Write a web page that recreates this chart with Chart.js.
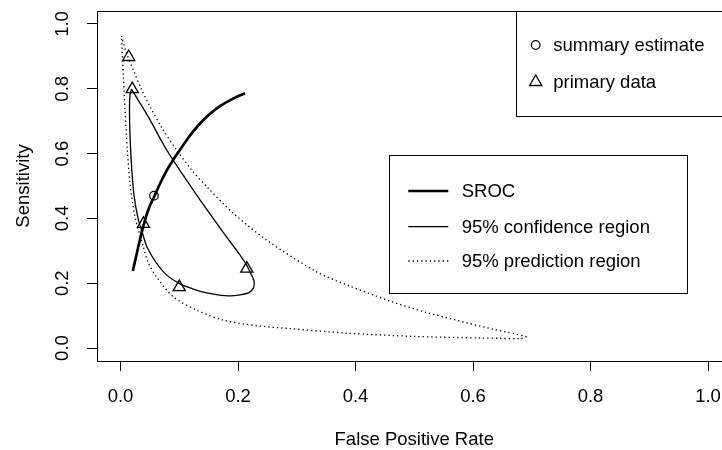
<!DOCTYPE html>
<html><head><meta charset="utf-8">
<script src="https://cdn.jsdelivr.net/npm/chart.js@4.4.1/dist/chart.umd.min.js"></script>
<style>
html,body{margin:0;padding:0;background:#fff;overflow:hidden;}
#wrap{position:relative;width:740px;height:450px;}
</style></head><body>
<div id="wrap"><canvas id="c"></canvas></div>
<script>
// ---- data ----
const xTicks = [0, 0.2, 0.4, 0.6, 0.8, 1.0];
const yTicks = [0, 0.2, 0.4, 0.6, 0.8, 1.0];

const srocFpr  = [0.021, 0.030, 0.039, 0.048, 0.058, 0.068, 0.079, 0.090, 0.101, 0.118, 0.135, 0.152, 0.170, 0.190, 0.212];
const srocSens = [0.238, 0.310, 0.378, 0.430, 0.470, 0.510, 0.549, 0.582, 0.611, 0.655, 0.692, 0.722, 0.747, 0.768, 0.786];

const confFpr  = [0.0187, 0.0332, 0.0502, 0.0786, 0.1064, 0.1353, 0.1745, 0.2034, 0.2148, 0.2204, 0.2255, 0.2277, 0.2260, 0.2187, 0.2034, 0.1864, 0.1660, 0.1467, 0.1239, 0.1013, 0.0786, 0.0616, 0.0451, 0.0388, 0.0298, 0.0230, 0.0187, 0.0162, 0.0153, 0.0162, 0.0187];
const confSens = [0.799, 0.756, 0.704, 0.611, 0.534, 0.457, 0.358, 0.287, 0.256, 0.235, 0.216, 0.201, 0.184, 0.171, 0.164, 0.161, 0.164, 0.170, 0.182, 0.198, 0.225, 0.261, 0.312, 0.346, 0.401, 0.472, 0.565, 0.657, 0.735, 0.781, 0.799];

const predFpr  = [0.0017, 0.0102, 0.0218, 0.0349, 0.0502, 0.0706, 0.0957, 0.1200, 0.1467, 0.1920, 0.2489, 0.3340, 0.3906, 0.4587, 0.5183, 0.5779, 0.6374, 0.6900, 0.6800, 0.6460, 0.6119, 0.4984, 0.3850, 0.2885, 0.2318, 0.1750, 0.1297, 0.0899, 0.0616, 0.0468, 0.0388, 0.0247, 0.0162, 0.0116, 0.0077, 0.0048, 0.0017];
const predSens = [0.963, 0.910, 0.858, 0.802, 0.745, 0.679, 0.611, 0.552, 0.498, 0.416, 0.333, 0.235, 0.191, 0.145, 0.111, 0.083, 0.057, 0.035, 0.029, 0.030, 0.031, 0.036, 0.046, 0.060, 0.069, 0.086, 0.117, 0.158, 0.219, 0.265, 0.313, 0.405, 0.508, 0.611, 0.735, 0.837, 0.963];

const summaryFpr  = [0.057];
const summarySens = [0.470];

const primaryFpr  = [0.014, 0.020, 0.039, 0.100, 0.215];
const primarySens = [0.898, 0.799, 0.383, 0.188, 0.245];

const legendPointLabels = ['summary estimate', 'primary data'];
const legendLineLabels  = ['SROC', '95% confidence region', '95% prediction region'];
const xTitle = 'False Positive Rate';
const yTitle = 'Sensitivity';

// ---- build ----
const zip = (xs, ys) => xs.map((x, i) => ({x: x, y: ys[i]}));
const FONT = '"Liberation Sans", Arial, Helvetica, sans-serif';
const FS = 18.5;
Chart.defaults.font.family = FONT;
Chart.defaults.font.size = FS;
Chart.defaults.color = '#000';

function drawTri(ctx, x, y, r) {
  ctx.beginPath();
  let a = 0;
  ctx.moveTo(x + Math.sin(a) * r, y - Math.cos(a) * r);
  a += 2 * Math.PI / 3;
  ctx.lineTo(x + Math.sin(a) * r, y - Math.cos(a) * r);
  a += 2 * Math.PI / 3;
  ctx.lineTo(x + Math.sin(a) * r, y - Math.cos(a) * r);
  ctx.closePath();
  ctx.stroke();
}

const rPlot = {
  id: 'rPlot',
  afterDraw(chart) {
    const ctx = chart.ctx;
    const ca = chart.chartArea;
    const ds = chart.data.datasets;
    ctx.save();
    ctx.strokeStyle = '#000';
    ctx.lineWidth = 1;
    // plot frame
    const L = Math.round(ca.left) + 0.5, T = Math.round(ca.top) + 0.5;
    const R = Math.round(ca.right) + 0.5, B = Math.round(ca.bottom) + 0.5;
    ctx.strokeRect(L, T, R - L, B - T);

    ctx.font = FS + 'px ' + FONT;
    ctx.fillStyle = '#000';
    ctx.textAlign = 'left';
    ctx.textBaseline = 'middle';

    // top-right legend (points)
    const t = {l: 516.5, t: T, r: R, b: 116.5};
    ctx.fillStyle = '#fff';
    ctx.fillRect(t.l, t.t, t.r - t.l, t.b - t.t);
    ctx.strokeRect(t.l, t.t, t.r - t.l, t.b - t.t);
    ctx.fillStyle = '#000';
    const rowsTop = [45, 82];
    ctx.lineWidth = ds[3].borderWidth;
    ctx.beginPath(); ctx.arc(535.7, rowsTop[0], ds[3].pointRadius, 0, Math.PI * 2); ctx.stroke();
    ctx.lineWidth = ds[4].borderWidth;
    drawTri(ctx, 535.7, rowsTop[1], ds[4].pointRadius);
    ctx.fillText(legendPointLabels[0], 553.3, rowsTop[0] + 0.9);
    ctx.fillText(legendPointLabels[1], 553.3, rowsTop[1] + 0.9);

    // middle legend (lines)
    const m = {l: 389.5, t: 155.5, r: 687.5, b: 293.5};
    ctx.lineWidth = 1;
    ctx.setLineDash([]);
    ctx.fillStyle = '#fff';
    ctx.fillRect(m.l, m.t, m.r - m.l, m.b - m.t);
    ctx.strokeRect(m.l, m.t, m.r - m.l, m.b - m.t);
    ctx.fillStyle = '#000';
    const rowsMid = [191, 226.7, 261];
    for (let i = 0; i < 3; i++) {
      const d = ds[i];
      ctx.lineWidth = d.borderWidth;
      ctx.setLineDash(d.borderDash || []);
      ctx.beginPath();
      ctx.moveTo(408.3, rowsMid[i]);
      ctx.lineTo(448.3, rowsMid[i]);
      ctx.stroke();
      ctx.setLineDash([]);
      ctx.fillText(legendLineLabels[i], 461.7, rowsMid[i] + 0.9);
    }
    ctx.restore();
  }
};

const fixedTicks = arr => function(scale) { scale.ticks = arr.map(v => ({value: v})); };
const noPad = s => { s.paddingTop = 0; s.paddingBottom = 0; s.paddingLeft = 0; s.paddingRight = 0; };

new Chart(document.getElementById('c'), {
  type: 'scatter',
  data: {
    datasets: [
      {label: legendLineLabels[0], data: zip(srocFpr, srocSens), showLine: true, borderColor: '#000', borderWidth: 2.7, pointRadius: 0, tension: 0.3, fill: false},
      {label: legendLineLabels[1], data: zip(confFpr, confSens), showLine: true, borderColor: '#000', borderWidth: 1.3, pointRadius: 0, tension: 0.3, fill: false},
      {label: legendLineLabels[2], data: zip(predFpr, predSens), showLine: true, borderColor: '#000', borderWidth: 1.3, borderDash: [1.3, 3.0], pointRadius: 0, tension: 0.3, fill: false},
      {label: legendPointLabels[0], data: zip(summaryFpr, summarySens), showLine: false, pointStyle: 'circle', pointRadius: 4.3, borderWidth: 1.2, borderColor: '#000', backgroundColor: 'rgba(0,0,0,0)'},
      {label: legendPointLabels[1], data: zip(primaryFpr, primarySens), showLine: false, pointStyle: 'triangle', pointRadius: 7, borderWidth: 1.3, borderColor: '#000', backgroundColor: 'rgba(0,0,0,0)'}
    ]
  },
  options: {
    responsive: true,
    maintainAspectRatio: false,
    animation: false,
    events: [],
    layout: {padding: {top: 11, right: 8.5, left: 0, bottom: 0}},
    plugins: {legend: {display: false}, tooltip: {enabled: false}},
    scales: {
      x: {
        type: 'linear', min: -0.04, max: 1.04,
        afterBuildTicks: fixedTicks(xTicks),
        afterFit: s => { s.height = 89; noPad(s); },
        border: {display: false},
        grid: {display: true, drawOnChartArea: false, drawTicks: true, tickLength: 10, color: '#000', lineWidth: 1},
        ticks: {padding: 14.6, color: '#000', font: {size: FS}, maxRotation: 0, autoSkip: false, callback: v => Number(v).toFixed(1)},
        title: {display: true, text: xTitle, color: '#000', font: {size: FS}, padding: {top: 0, bottom: -1}}
      },
      y: {
        type: 'linear', min: -0.04, max: 1.04,
        afterBuildTicks: fixedTicks(yTicks),
        afterFit: s => { s.width = 97; noPad(s); },
        border: {display: false},
        grid: {display: true, drawOnChartArea: false, drawTicks: true, tickLength: 10, color: '#000', lineWidth: 1},
        ticks: {padding: 11.5, color: '#000', font: {size: FS}, minRotation: 90, maxRotation: 90, crossAlign: 'center', autoSkip: false, callback: v => Number(v).toFixed(1)},
        title: {display: true, text: yTitle, color: '#000', font: {size: FS}, padding: {top: 12.6, bottom: 0}}
      }
    }
  },
  plugins: [rPlot]
});
</script>
</body></html>
